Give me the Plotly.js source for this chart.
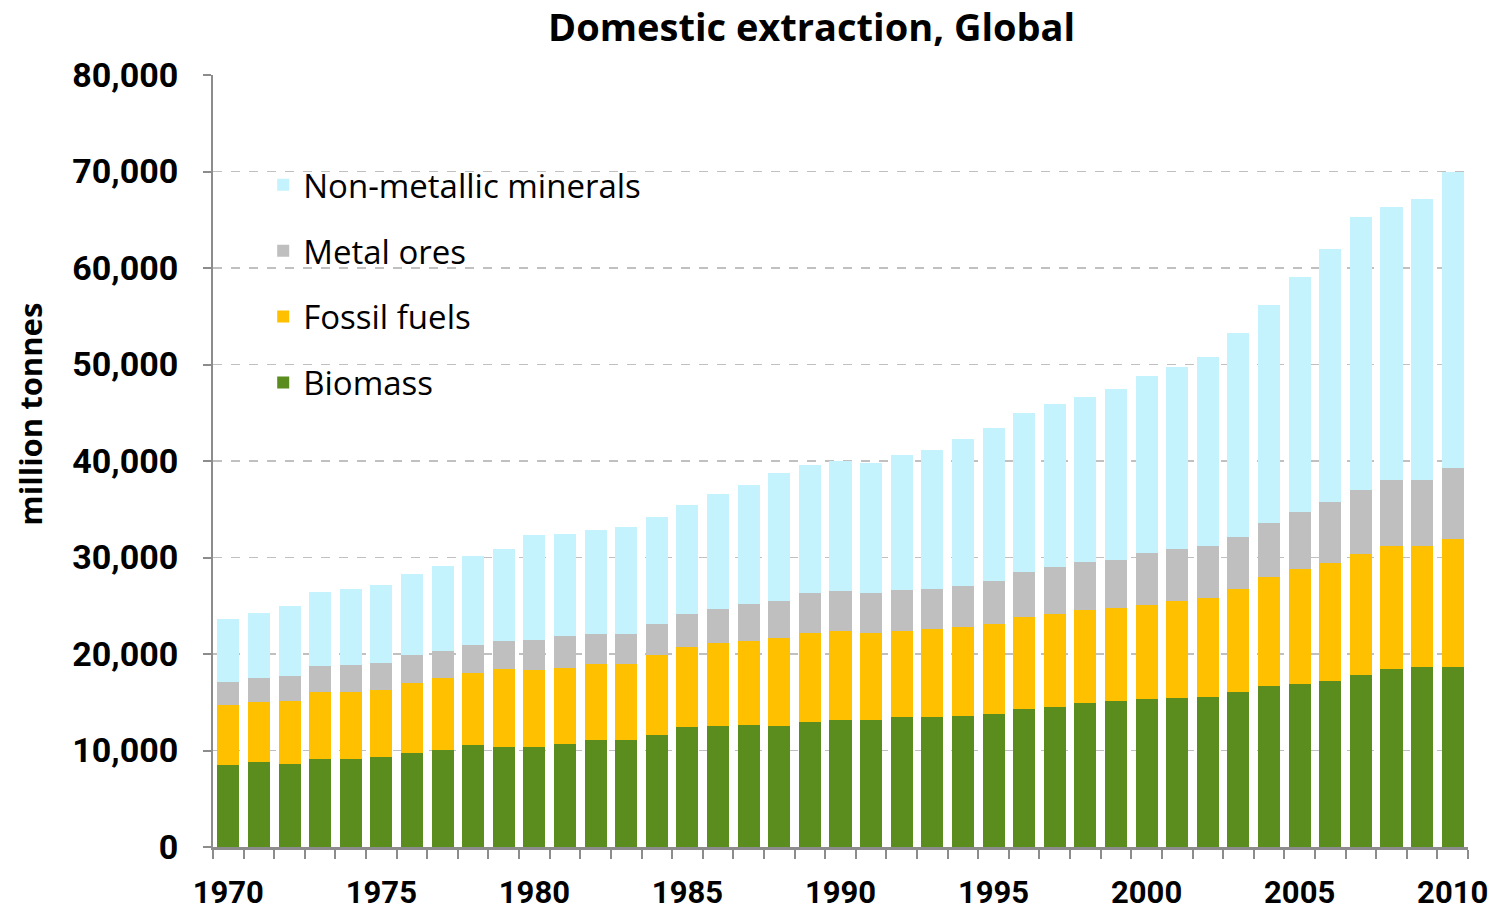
<!DOCTYPE html>
<html>
<head>
<meta charset="utf-8">
<script src="https://cdn.plot.ly/plotly-3.0.1.min.js"></script>
<style>html,body{margin:0;padding:0;background:#fff;}#chart{width:1503px;height:914px;}</style>
</head>
<body>
<div id="chart"></div>
<script>
const years = [1970,1971,1972,1973,1974,1975,1976,1977,1978,1979,
  1980,1981,1982,1983,1984,1985,1986,1987,1988,1989,
  1990,1991,1992,1993,1994,1995,1996,1997,1998,1999,
  2000,2001,2002,2003,2004,2005,2006,2007,2008,2009,2010];

const biomass = [8500,8770,8630,9120,9120,9290,9770,10020,10540,10340,
  10360,10700,11090,11090,11610,12400,12570,12640,12570,12970,
  13160,13160,13440,13510,13610,13780,14300,14540,14890,15130,
  15310,15450,15590,16020,16680,16910,17240,17850,18420,18610,18610];

const fossilFuels = [6200,6290,6530,6910,6910,7010,7260,7520,7520,8070,
  7950,7850,7840,7910,8250,8360,8570,8740,9120,9240,
  9260,9050,8980,9030,9150,9300,9500,9570,9700,9650,
  9800,10080,10220,10740,11300,11870,12200,12490,12760,12570,13280];

const metalOres = [2400,2420,2560,2730,2860,2770,2870,2740,2870,2920,
  3170,3320,3140,3100,3250,3390,3490,3770,3830,4140,
  4140,4140,4170,4200,4290,4520,4700,4910,4940,4990,
  5370,5320,5420,5370,5610,5940,6310,6640,6830,6830,7350];

const nonMetallic = [6500,6800,7220,7630,7850,8050,8390,8810,9220,9570,
  10820,10600,10780,11090,11120,11290,11920,12400,13200,13270,
  13410,13480,14030,14430,15200,15850,16440,16890,17070,17680,
  18320,18940,19500,21100,22610,24350,26240,28310,28310,29110,30760];

const xTickVals = [1970,1975,1980,1985,1990,1995,2000,2005,2010];
const yTickVals = [0,10000,20000,30000,40000,50000,60000,70000,80000];
const yTickText = ["0","10,000","20,000","30,000","40,000","50,000","60,000","70,000","80,000"];

const series = [
  {name: "Biomass", values: biomass, color: "#5b8c1e", rank: 4},
  {name: "Fossil fuels", values: fossilFuels, color: "#ffc000", rank: 3},
  {name: "Metal ores", values: metalOres, color: "#bfbfbf", rank: 2},
  {name: "Non-metallic minerals", values: nonMetallic, color: "#c4f2fd", rank: 1}
];

const traces = series.map((s, i) => ({
  type: "bar",
  name: s.name,
  x: years,
  y: s.values,
  legendgroup: "g" + i,
  legendrank: s.rank,
  marker: {color: s.color, line: {width: 0}},
  hovertemplate: "%{x}: %{y:,}<extra>" + s.name + "</extra>"
}));

const boldFont = "Roboto, 'Open Sans', sans-serif";

const layout = {
  width: 1503,
  height: 914,
  paper_bgcolor: "#ffffff",
  plot_bgcolor: "#ffffff",
  barmode: "stack",
  bargap: 0.28,
  margin: {l: 213, r: 35, t: 75, b: 67},
  title: {
    text: "<b>Domestic extraction, Global</b>",
    font: {family: "'Open Sans', sans-serif", size: 38, color: "#000"},
    x: 0.54, xref: "container", xanchor: "center",
    y: 0.97, yref: "container", yanchor: "middle"
  },
  xaxis: {
    type: "linear",
    range: [1969.5, 2010.5],
    tickvals: xTickVals,
    ticktext: xTickVals.map(String),
    ticks: "",
    ticklabelstandoff: 16,
    tickfont: {family: boldFont, size: 31, color: "#000", weight: "bold"},
    showgrid: false,
    zeroline: false,
    showline: true,
    linecolor: "#8c8c8c",
    linewidth: 3,
    minor: {tick0: 1969.5, dtick: 1, ticks: "outside", ticklen: 9, tickcolor: "#8c8c8c", tickwidth: 2, showgrid: false},
    fixedrange: true
  },
  yaxis: {
    range: [0, 80000],
    tickvals: yTickVals,
    ticktext: yTickText,
    ticks: "outside",
    ticklen: 8,
    tickwidth: 2,
    tickcolor: "#8c8c8c",
    ticklabelstandoff: 18,
    tickfont: {family: boldFont, size: 34, color: "#000", weight: "bold"},
    showline: true,
    linecolor: "#8c8c8c",
    linewidth: 2,
    showgrid: true,
    gridcolor: "#c0c0c0",
    griddash: "dash",
    gridwidth: 1.5,
    zeroline: false,
    fixedrange: true
  },
  annotations: [{
    text: "<b>million tonnes</b>",
    xref: "paper", yref: "paper",
    x: -0.146, y: 0.561,
    xanchor: "center", yanchor: "middle",
    textangle: -90,
    showarrow: false,
    font: {family: "'Open Sans', sans-serif", size: 31, color: "#000"}
  }],
  showlegend: true,
  legend: {
    x: 0.04, y: 0.894, xanchor: "left", yanchor: "top",
    traceorder: "grouped",
    tracegroupgap: 20,
    bgcolor: "rgba(0,0,0,0)",
    font: {family: "'Open Sans', sans-serif", size: 33, color: "#000"},
    itemwidth: 30
  }
};

Plotly.newPlot("chart", traces, layout, {displayModeBar: false, staticPlot: true});
</script>
</body>
</html>
